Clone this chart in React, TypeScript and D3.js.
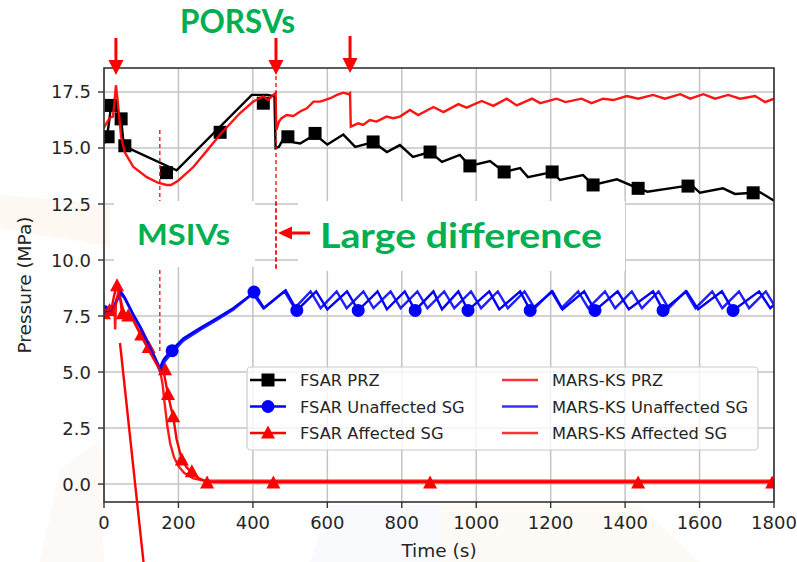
import React from "react";
import * as d3 from "d3";

type Pt = [number, number];

const xTicks = [0, 200, 400, 600, 800, 1000, 1200, 1400, 1600, 1800];
const yTicks = [0, 2.5, 5, 7.5, 10, 12.5, 15, 17.5];

const fsarPrzLine: Pt[] = [
  [0, 15.2], [8, 15.5], [14, 16.2], [19, 16.9], [26, 17.1], [32, 16.9], [40, 16.5], [46, 16.3], [52, 15.3], [58, 15.05],
  [195, 14.0], [397, 17.37], [440, 17.37], [458, 17.3], [461, 15.0], [470, 15.05], [483, 15.45], [494, 15.5], [510, 15.25],
  [527, 15.2], [567, 15.6], [600, 15.15], [643, 15.6], [675, 15.05], [706, 15.18], [723, 15.27], [760, 14.82], [795, 15.13],
  [830, 14.6], [876, 14.82], [908, 14.38], [956, 14.69], [983, 14.2], [1037, 14.42], [1075, 13.93], [1118, 14.1],
  [1139, 13.7], [1204, 13.93], [1225, 13.57], [1287, 13.79], [1314, 13.35], [1378, 13.6], [1435, 13.2], [1460, 13.05],
  [1560, 13.3], [1580, 13.32], [1601, 13.0], [1663, 13.2], [1695, 12.95], [1744, 13.0], [1760, 13.05], [1797, 12.68], [1800, 12.65],
];
const fsarPrzMarkers: Pt[] = [
  [11, 15.5], [19, 16.9], [46, 16.3], [56, 15.1], [168, 13.9], [312, 15.7], [428, 17.0], [494, 15.5], [567, 15.65],
  [723, 15.27], [876, 14.82], [983, 14.2], [1075, 13.93], [1204, 13.93], [1314, 13.35], [1435, 13.2], [1569, 13.3], [1744, 13.0],
];

const fsarUnaffLine: Pt[] = [
  [0, 7.7], [15, 7.72], [25, 7.8], [35, 8.3], [46, 8.57], [55, 8.35], [78, 7.6], [100, 6.95], [125, 6.1], [150, 5.18],
  [160, 5.55], [177, 5.9], [213, 6.5], [258, 6.96], [303, 7.4], [347, 7.85], [403, 8.55], [430, 7.85], [488, 8.65],
  [518, 7.75], [570, 8.6], [600, 7.8], [653, 8.6], [683, 7.75], [735, 8.6], [760, 7.8], [808, 8.6], [836, 7.75],
  [885, 8.6], [908, 7.8], [952, 8.6], [978, 7.75], [1035, 8.6], [1062, 7.8], [1118, 8.6], [1145, 7.75], [1205, 8.6],
  [1232, 7.8], [1290, 8.6], [1319, 7.75], [1380, 8.6], [1410, 7.8], [1475, 8.6], [1502, 7.75], [1565, 8.6], [1596, 7.8],
  [1660, 8.6], [1690, 7.75], [1760, 8.6], [1790, 7.85], [1800, 8.0],
];
const fsarUnaffMarkers: Pt[] = [
  [0, 7.7], [183, 5.95], [403, 8.57], [518, 7.75], [683, 7.75], [836, 7.75], [978, 7.75], [1145, 7.75], [1319, 7.75],
  [1502, 7.75], [1690, 7.75],
];

const fsarAffLine: Pt[] = [
  [0, 7.6], [10, 7.7], [20, 7.8], [27, 8.4], [35, 8.95], [42, 8.5], [48, 7.7], [55, 7.6], [73, 7.5], [100, 6.65],
  [126, 5.85], [150, 5.15], [160, 5.05], [165, 4.6], [172, 4.0], [180, 3.4], [186, 3.0], [195, 2.0], [209, 1.1],
  [222, 0.75], [236, 0.5], [255, 0.25], [277, 0.1], [300, 0.08], [1800, 0.08],
];
const fsarAffMarkers: Pt[] = [
  [0, 7.6], [15, 7.75], [35, 8.85], [50, 7.6], [65, 7.5], [100, 6.65], [120, 6.1], [164, 5.1], [172, 4.0], [186, 3.0],
  [209, 1.07], [236, 0.55], [277, 0.05], [455, 0.05], [876, 0.05], [1435, 0.05], [1795, 0.05],
];

const marsPrzLine: Pt[] = [
  [0, 15.9], [3, 16.0], [10, 16.2], [16, 16.35], [24, 16.4], [28, 17.0], [32, 17.8], [36, 17.2], [40, 16.55], [46, 15.5],
  [56, 14.8], [79, 14.15], [115, 13.7], [145, 13.45], [168, 13.35], [180, 13.35], [200, 13.55], [240, 14.15], [280, 14.95],
  [312, 15.6], [365, 16.55], [401, 17.07], [428, 17.3], [441, 17.14], [455, 17.37], [461, 17.45], [463, 15.8], [470, 16.18],
  [477, 16.33], [491, 16.47], [509, 16.43], [527, 16.63], [545, 16.77], [563, 17.07], [581, 17.07], [608, 17.22],
  [626, 17.37], [643, 17.47], [657, 17.4], [661, 17.45], [663, 15.95], [683, 16.1], [696, 16.03], [714, 16.25],
  [732, 16.18], [759, 16.4], [777, 16.33], [795, 16.4], [822, 16.7], [844, 16.47], [885, 16.83], [912, 16.6], [952, 16.96],
  [974, 16.8], [1015, 17.1], [1046, 16.88], [1082, 17.2], [1109, 16.9], [1150, 17.2], [1172, 17.0], [1216, 17.2],
  [1240, 17.05], [1283, 17.2], [1310, 17.0], [1341, 17.2], [1368, 17.14], [1405, 17.32], [1435, 17.2], [1475, 17.37],
  [1507, 17.2], [1548, 17.4], [1575, 17.2], [1610, 17.4], [1642, 17.2], [1677, 17.37], [1709, 17.2], [1749, 17.32],
  [1776, 17.05], [1800, 17.2],
];

const marsUnaffLine: Pt[] = [
  [0, 7.65], [20, 7.7], [30, 8.0], [44, 8.5], [55, 8.3], [78, 7.55], [100, 6.9], [125, 6.05], [150, 5.05], [160, 5.4],
  [177, 5.75], [213, 6.4], [258, 6.88], [303, 7.32], [347, 7.78], [400, 8.5], [428, 7.85], [485, 8.6], [512, 7.85],
  [555, 8.6], [582, 7.85], [625, 8.6], [652, 7.85], [697, 8.6], [724, 7.85], [770, 8.6], [797, 7.85], [842, 8.6],
  [869, 7.85], [914, 8.6], [941, 7.85], [986, 8.6], [1013, 7.85], [1058, 8.6], [1085, 7.85], [1130, 8.6], [1157, 7.85],
  [1202, 8.6], [1229, 7.85], [1274, 8.6], [1301, 7.85], [1346, 8.6], [1373, 7.85], [1418, 8.6], [1445, 7.85],
  [1490, 8.6], [1517, 7.85], [1562, 8.6], [1589, 7.85], [1634, 8.6], [1661, 7.85], [1706, 8.6], [1733, 7.85],
  [1778, 8.6], [1800, 8.0],
];

const marsAffLine: Pt[] = [
  [0, 7.6], [20, 7.65], [28, 7.9], [30, 6.9], [32, 8.0], [38, 8.6], [45, 8.2], [55, 7.55], [73, 7.5], [100, 6.6],
  [126, 5.8], [150, 5.1], [157, 4.5], [163, 3.6], [170, 2.6], [178, 1.8], [188, 1.2], [200, 0.8], [215, 0.5], [240, 0.25],
  [270, 0.15], [1800, 0.15],
];

const legendItems = [
  { label: "FSAR PRZ", color: "#000000", marker: "square", col: 0, row: 0 },
  { label: "FSAR Unaffected SG", color: "#0000ff", marker: "circle", col: 0, row: 1 },
  { label: "FSAR Affected SG", color: "#ff0000", marker: "triangle", col: 0, row: 2 },
  { label: "MARS-KS PRZ", color: "#ff0000", marker: "none", col: 1, row: 0 },
  { label: "MARS-KS Unaffected SG", color: "#0000ff", marker: "none", col: 1, row: 1 },
  { label: "MARS-KS Affected SG", color: "#ff0000", marker: "none", col: 1, row: 2 },
];

const W = 797;
const H = 562;
const L = 104, R = 774, T = 68, B = 502;
const GREEN = "#00b050";

function Marker({ kind, cx, cy, color }: { kind: string; cx: number; cy: number; color: string }) {
  if (kind === "square") return <rect x={cx - 6.5} y={cy - 6.5} width={13} height={13} fill={color} />;
  if (kind === "circle") return <circle cx={cx} cy={cy} r={6.5} fill={color} />;
  if (kind === "triangle")
    return <path d={`M${cx},${cy - 7.5}L${cx + 7},${cy + 5.5}L${cx - 7},${cy + 5.5}Z`} fill={color} />;
  return null;
}

export default function App() {
  const x = d3.scaleLinear().domain([0, 1800]).range([L, R]);
  const y = d3.scaleLinear().domain([-0.8, 18.57]).range([B, T]);
  const line = d3.line<Pt>().x((d) => x(d[0])).y((d) => y(d[1]));

  const tickFont = "DejaVu Sans, sans-serif";
  const arrowXs = [32, 462, 661];

  return (
    <svg width={W} height={H} style={{ position: "fixed", left: 0, top: 0, background: "#fff" }}>
      <defs>
        <clipPath id="plot">
          <rect x={L} y={T} width={R - L} height={B - T} />
        </clipPath>
      </defs>
      {/* faint slide watermark */}
      <path d="M0,195 L110,205 L110,246 L0,228 Z" fill="#fef8f2" />
      <path d="M60,470 L100,440 L104,562 L40,562 Z" fill="#fdf9f6" />
      <path d="M330,505 L440,505 L440,562 L310,562 Z" fill="#f8fafd" />
      <path d="M440,505 L640,505 L700,562 L440,562 Z" fill="#fefbf6" />

      {/* grid */}
      {xTicks.map((t) => (
        <line key={"gx" + t} x1={x(t)} x2={x(t)} y1={T} y2={B} stroke="#c4c4c4" strokeWidth={1.5} />
      ))}
      {yTicks.map((t) => (
        <line key={"gy" + t} x1={L} x2={R} y1={y(t)} y2={y(t)} stroke="#c4c4c4" strokeWidth={1.5} />
      ))}

      <g clipPath="url(#plot)">
        <path d={line(fsarPrzLine) || ""} fill="none" stroke="#000" strokeWidth={2.4} />
        {fsarPrzMarkers.map((d, i) => (
          <Marker key={"fp" + i} kind="square" cx={x(d[0])} cy={y(d[1])} color="#000" />
        ))}
        <path d={line(fsarUnaffLine) || ""} fill="none" stroke="#0000ff" strokeWidth={2.4} />
        {fsarUnaffMarkers.map((d, i) => (
          <Marker key={"fu" + i} kind="circle" cx={x(d[0])} cy={y(d[1])} color="#0000ff" />
        ))}
        <path d={line(fsarAffLine) || ""} fill="none" stroke="#ff0000" strokeWidth={2.4} />
        {fsarAffMarkers.map((d, i) => (
          <Marker key={"fa" + i} kind="triangle" cx={x(d[0])} cy={y(d[1])} color="#ff0000" />
        ))}
        <path d={line(marsPrzLine) || ""} fill="none" stroke="#ff0000" strokeOpacity={0.92} strokeWidth={2.4} />
        <path d={line(marsUnaffLine) || ""} fill="none" stroke="#0000ff" strokeOpacity={0.88} strokeWidth={2.4} />
        <path d={line(marsAffLine) || ""} fill="none" stroke="#ff0000" strokeOpacity={0.9} strokeWidth={2.4} />
      </g>

      {/* axes frame */}
      <rect x={L} y={T} width={R - L} height={B - T} fill="none" stroke="#333" strokeWidth={1.6} />
      {xTicks.map((t) => (
        <g key={"xt" + t}>
          <line x1={x(t)} x2={x(t)} y1={B} y2={B + 6} stroke="#333" strokeWidth={1.4} />
          <text x={x(t)} y={B + 27} textAnchor="middle" fontFamily={tickFont} fontSize={18} fill="#262626">
            {t}
          </text>
        </g>
      ))}
      {yTicks.map((t) => (
        <g key={"yt" + t}>
          <line x1={L - 6} x2={L} y1={y(t)} y2={y(t)} stroke="#333" strokeWidth={1.4} />
          <text x={L - 13} y={y(t) + 6.5} textAnchor="end" fontFamily={tickFont} fontSize={18} fill="#262626">
            {t.toFixed(1)}
          </text>
        </g>
      ))}
      <text x={(L + R) / 2} y={557} textAnchor="middle" fontFamily={tickFont} fontSize={18.5} fill="#262626">
        Time (s)
      </text>
      <text
        transform={`translate(31,${(T + B) / 2}) rotate(-90)`}
        textAnchor="middle"
        fontFamily={tickFont}
        fontSize={18.5}
        fill="#262626"
      >
        Pressure (MPa)
      </text>

      {/* legend */}
      <rect x={247} y={367} width={511} height={83} rx={4} fill="#fff" fillOpacity={0.8} stroke="#cccccc" strokeWidth={1.2} />
      {legendItems.map((it) => {
        const hx = it.col === 0 ? 250 : 502;
        const ty = 380 + it.row * 26.5;
        return (
          <g key={it.label}>
            <line x1={hx} x2={hx + 36} y1={ty} y2={ty} stroke={it.color} strokeOpacity={it.col === 1 ? 0.8 : 1} strokeWidth={2.6} />
            <Marker kind={it.marker} cx={hx + 18} cy={ty} color={it.color} />
            <text x={hx + 50} y={ty + 6} fontFamily={tickFont} fontSize={16.3} fill="#262626">
              {it.label}
            </text>
          </g>
        );
      })}

      {/* vertical dashed markers */}
      <line x1={x(150)} x2={x(150)} y1={130} y2={352} stroke="#ff0000" strokeWidth={1.3} strokeDasharray="4,3" />
      <line x1={x(462)} x2={x(462)} y1={76} y2={270} stroke="#ff0000" strokeWidth={1.3} strokeDasharray="4,3" />

      {/* white text boxes */}
      <rect x={114} y={201} width={141} height={66} fill="#fff" />
      <rect x={298} y={201} width={327} height={70} fill="#fff" />
      <line x1={x(462)} x2={x(462)} y1={201} y2={270} stroke="#ff0000" strokeWidth={1.3} strokeDasharray="4,3" />

      {/* annotations */}
      <text x={180} y={33} fontFamily="Lato, sans-serif" fontWeight="bold" fontSize={32} fill={GREEN} textLength={115} lengthAdjust="spacingAndGlyphs">
        PORSVs
      </text>
      <text x={137} y={245} fontFamily="Lato, sans-serif" fontWeight="bold" fontSize={29} fill={GREEN} textLength={93} lengthAdjust="spacingAndGlyphs">
        MSIVs
      </text>
      <text x={320} y={248} fontFamily="Lato, sans-serif" fontWeight="bold" fontSize={35} fill={GREEN} textLength={282} lengthAdjust="spacingAndGlyphs">
        Large difference
      </text>

      {arrowXs.map((t, i) => {
        const ax = x(t);
        const top = i === 2 ? 36 : 38;
        const tip = i === 2 ? 73 : 75;
        return (
          <g key={"ar" + i}>
            <line x1={ax} x2={ax} y1={top} y2={tip - 12} stroke="#ff0000" strokeWidth={3} />
            <path d={`M${ax - 7.5},${tip - 15}L${ax + 7.5},${tip - 15}L${ax},${tip}Z`} fill="#ff0000" />
          </g>
        );
      })}
      {/* left-pointing arrow */}
      <line x1={310} x2={290} y1={233} y2={233} stroke="#ff0000" strokeWidth={3} />
      <path d="M278,233 L292,226.5 L292,239.5 Z" fill="#ff0000" />
      {/* diagonal pointer line */}
      <line x1={120} y1={343} x2={143.5} y2={562} stroke="#ff0000" strokeWidth={2.4} />
    </svg>
  );
}
